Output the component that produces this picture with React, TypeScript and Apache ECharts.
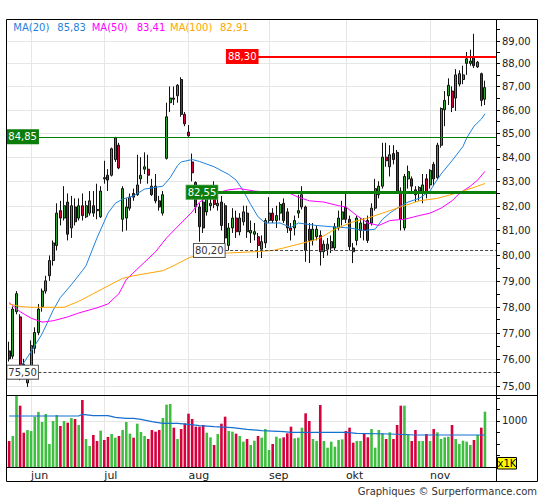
import React, { useEffect, useRef } from 'react';
import * as echarts from 'echarts';

// ---------- data ----------
const opens = [76.3,76.1,77.8,77.6,75.8,75.1,75.7,76.4,77.0,78.0, 78.6,79.2,79.8,80.4,81.8,81.5,82.15,81.1,81.95,81.5, 82.0,81.55,81.7,82.0,81.85,81.55,83.15,83.25,83.25,83.9, 84.5,81.45,81.5,81.9,82.5,82.45,83.1,83.5,83.5,82.8, 82.8,82.2,81.7,83.95,86.3,86.5,86.6,87.3,85.8,85.05, 83.8,82.95,81.95,82.15,81.75,82.0,82.3,82.0,82.15,82.0, 80.4,81.1,81.5,80.95,81.35,81.7,80.9,80.85,80.75,80.25, 80.5,81.4,81.7,81.4,81.7,82.1,81.75,81.1,81.1,81.7, 81.95,81.95,81.05,80.6,80.75,80.8,80.15,80.25,80.3,80.3, 81.1,81.45,81.95,81.45,80.3,80.6,81.0,81.25,81.4,81.3, 81.9,82.45,82.8,84.0,83.6,84.15,84.2,82.6,81.1,83.1, 83.1,82.65,82.6,82.5,83.1,82.85,83.7,83.15,84.5,86.0, 86.6,86.8,86.5,87.1,87.3,88.0,88.0,88.25,87.85,87.55, 86.45];
const closes = [76.0,77.9,78.5,75.4,75.5,75.5,76.5,77.0,77.9,78.6, 79.0,79.8,80.5,81.7,81.5,82.0,80.85,82.0,81.35,82.0, 81.6,82.0,82.2,81.7,81.8,82.6,83.1,83.05,84.35,84.8, 83.55,82.7,81.95,82.35,82.35,82.85,83.25,83.6,83.25,82.45, 82.2,81.95,82.45,85.7,86.5,86.45,87.05,85.8,85.4,84.9, 83.35,81.95,81.15,81.1,82.35,82.1,82.05,82.1,81.2,80.7, 81.1,81.5,80.95,81.5,81.75,80.95,81.0,80.95,80.4,80.55, 81.4,81.7,81.4,81.6,82.05,81.4,81.1,81.0,81.4,81.8, 82.45,80.2,80.6,81.05,81.05,80.15,80.45,80.45,80.55,81.15, 81.5,81.75,81.45,80.35,80.15,81.5,81.3,81.0,80.6,81.9, 82.7,82.8,84.0,83.85,84.1,83.9,82.55,81.45,83.2,83.4, 82.8,82.45,82.75,82.85,82.55,83.45,83.1,84.5,86.05,86.4, 87.05,86.1,87.5,87.55,87.5,88.2,88.1,87.9,88.05,86.4, 86.95];
const lows = [75.9,76.0,77.7,75.2,75.3,74.95,75.5,76.2,76.9,77.8, 78.5,79.0,79.6,80.2,81.2,81.4,80.6,80.7,81.2,81.4, 81.4,81.5,81.6,81.55,81.45,81.5,82.9,82.6,83.2,83.8, 83.5,80.95,81.0,81.8,82.2,82.4,82.9,83.3,82.9,82.4, 82.1,81.8,81.6,83.9,85.9,86.2,86.3,85.7,85.3,84.85, 83.0,81.7,80.55,80.9,81.6,81.8,81.9,81.8,81.0,80.2, 80.2,80.9,80.7,80.8,81.2,80.7,80.5,80.6,79.9,79.9, 80.3,81.3,81.3,81.1,81.4,81.3,80.9,80.6,80.8,81.5, 81.85,79.75,79.7,80.4,80.6,79.6,79.9,80.0,80.1,80.2, 81.0,81.2,81.3,80.2,79.7,80.4,80.7,80.6,80.5,81.2, 81.8,82.3,82.7,83.6,83.2,83.7,82.5,81.0,81.0,82.7, 82.5,82.15,82.2,82.1,82.3,82.7,82.8,83.1,84.4,85.3, 86.2,85.9,85.95,87.0,87.1,87.5,87.9,87.8,87.8,86.15, 86.2];
const highs = [76.65,78.0,78.6,77.7,76.0,75.7,76.7,77.2,78.1,78.7, 79.2,80.0,80.6,82.1,82.2,82.8,82.5,82.4,82.3,82.3, 82.5,82.2,82.6,82.6,82.9,82.8,83.85,83.5,84.4,84.85, 84.6,82.8,82.3,82.5,82.7,84.1,84.0,84.2,84.1,83.1, 83.3,82.4,82.6,86.3,87.0,87.0,87.1,87.4,85.9,85.35, 84.15,83.0,82.1,82.4,82.55,82.5,83.0,82.5,82.4,82.1, 81.3,81.9,81.8,81.7,82.0,82.0,81.4,81.3,80.9,80.8, 81.5,82.35,81.9,82.0,82.15,82.3,81.9,81.3,81.6,82.45, 82.8,82.0,81.3,81.3,81.2,81.0,80.6,80.7,80.8,81.3, 81.8,82.2,82.6,81.6,80.5,81.6,81.5,81.5,81.6,82.1, 83.1,83.0,84.6,84.6,84.5,84.5,84.3,82.75,83.3,83.65, 83.2,82.8,82.8,83.3,83.3,83.5,83.8,84.6,86.1,86.8, 87.35,87.0,87.75,87.7,87.9,88.5,88.6,89.3,88.1,87.6, 87.25];
// volumes in thousands
const volumes = [565,674,1551,1333,746,804,783,1094,1196,978, 1152,500,1000,1130,891,1000,964,1065,1043,913, 1456,609,457,696,565,790,587,652,717,638, 674,804,978,725,638,942,761,674,609,804, 768,804,1065,1355,1370,855,609,826,949,1159, 1043,877,877,913,746,645,478,717,942,1094, 783,768,725,674,551,609,478,572,674,638, 826,370,500,659,623,645,732,877,623,638, 855,1167,1000,609,565,1348,565,420,551,442, 587,601,783,855,529,565,565,732,645,826, 420,804,732,609,754,609,913,1333,1333,710, 565,804,565,565,717,565,826,754,609,645, 659,913,609,500,572,551,478,587,696,855, 1203];

// moving averages sampled along the picture: [candle index, value]
const ma20 = [[3,75.75],[4,75.85],[7,76.5],[9,76.95],[12,77.85],[14,78.35],[17,78.85],[20,79.4],[21,79.6],[24,80.7],[27,81.7],[29,82.1],[31,82.27],[34,82.4],[37,82.68],[42,82.8],[44,83.15],[46,83.65],[47,83.8],[50,83.9],[52,83.82],[56,83.6],[60,83.28],[62,83.05],[64,82.6],[66,82.05],[68,81.55],[70,81.3],[74,81.3],[77,81.12],[79,81.3],[84,81.2],[88,81.15],[93,81.1],[97,81.0],[100,81.05],[102,81.45],[104,81.7],[105,81.8],[107,82.0],[109,82.15],[112,82.3],[115,82.6],[116,82.85],[118,83.3],[121,83.85],[124,84.45],[125,84.8],[127,85.3],[129,85.6],[130,85.83]];
const ma50 = [[0,78.15],[3,77.8],[6,77.55],[9,77.4],[12,77.45],[16,77.6],[19,77.75],[24,77.95],[27,78.1],[30,78.5],[32,79.05],[36,79.6],[40,80.15],[43,80.7],[47,81.3],[50,81.75],[52,82.15],[56,82.5],[60,82.65],[63,82.7],[67,82.6],[71,82.55],[74,82.5],[76,82.55],[79,82.35],[82,82.2],[86,82.15],[90,82.0],[92,81.95],[95,81.6],[98,81.3],[101,81.2],[104,81.4],[108,81.45],[112,81.6],[115,81.7],[118,81.9],[121,82.2],[123,82.5],[126,82.8],[128,83.05],[130,83.41]];
const ma100 = [[0,78.1],[3,78.0],[6,77.97],[15,77.97],[19,78.2],[23,78.5],[27,78.8],[31,79.1],[34,79.2],[38,79.3],[42,79.4],[45,79.6],[49,79.9],[51,80.0],[54,80.05],[60,80.1],[67,80.15],[72,80.2],[75,80.3],[79,80.45],[83,80.6],[85,80.7],[89,81.05],[94,81.35],[98,81.5],[102,81.7],[107,81.95],[112,82.2],[117,82.3],[123,82.55],[128,82.8],[130,82.91]];
const volMa = [[0,1109],[19,1109],[20,1145],[23,1115],[27,1115],[29,1080],[32,1058],[34,1058],[36,1036],[39,985],[42,950],[46,950],[49,928],[52,898],[56,877],[61,855],[65,819],[69,790],[75,768],[77,754],[92,754],[95,732],[104,717],[111,696],[130,696]];

const monthNames = ['jun', 'jul', 'aug', 'sep', 'okt', 'nov'];
const monthStarts = [6, 26, 49, 71, 92, 115];
const priceTicks = [75, 76, 77, 78, 79, 80, 81, 82, 83, 84, 85, 86, 87, 88, 89];
const priceMinorTicks = [75.5, 76.5, 77.5, 78.5, 79.5, 80.5, 81.5, 82.5, 83.5, 84.5, 85.5, 86.5, 87.5, 88.5, 89.5];
const volumeGridValues = [1000];
const levelValues = [88.3, 84.85, 82.55, 80.2, 75.5];
const levelStarts = [69, 9, 58, 60, 9];
const legendNames = ['MA(20)', 'MA(50)', 'MA(100)'];

// ---------- styling ----------
const FONT = '"DejaVu Sans", Verdana, sans-serif';
const N_CAT = 135;
const C_UP = '#2ea52e';
const C_DOWN = '#d4003d';
const V_UP = '#3fbf3f';
const V_DOWN = '#d6003c';
const C_MA20 = '#1f82dc';
const C_MA50 = '#ff00ff';
const C_MA100 = '#ffa500';
const GRID_C = '#e6e6e6';

const cat = (k: number) => k + 1;
const fmt = (v: number) => v.toFixed(2).replace('.', ',');
const L = Math.log;

export default function App() {
  const ref = useRef<HTMLDivElement>(null);

  useEffect(() => {
    if (!ref.current) return;
    const chart = echarts.init(ref.current, null, { renderer: 'svg' });

    const categories = Array.from({ length: N_CAT }, (_, i) => String(i));
    const monthCats = monthStarts.map(cat);
    const monthAt = (i: number) => {
      const j = monthCats.indexOf(i);
      return j >= 0 ? monthNames[j] : '';
    };

    const candles = opens.map((o, k) => [cat(k), L(o), L(closes[k]), L(lows[k]), L(highs[k])]);
    const volBars = volumes.map((v, k) => ({
      value: [cat(k), v],
      itemStyle: { color: closes[k] >= opens[k] ? V_UP : V_DOWN },
    }));
    const lineData = (arr: number[][]) => arr.map(([k, v]) => [cat(k), L(v)]);

    const allTicks = [
      ...priceTicks.map((v) => ({ v, major: true })),
      ...priceMinorTicks.map((v) => ({ v, major: false })),
    ];

    const levelStyle = [
      { line: { color: '#ff0000', width: 2, type: 'solid' }, bg: '#ff0000', border: '#ff0000', text: '#fff' },
      { line: { color: '#008000', width: 1, type: 'solid' }, bg: '#0a7d0a', border: '#0a7d0a', text: '#fff' },
      { line: { color: '#0a800a', width: 3, type: 'solid' }, bg: '#0a7d0a', border: '#3a9a3a', text: '#fff' },
      { line: { color: '#444', width: 1, type: [3, 2] }, bg: '#fff', border: '#555', text: '#333' },
      { line: { color: '#444', width: 1, type: [3, 2] }, bg: '#fff', border: '#555', text: '#333' },
    ];

    const markData = levelValues.map((v, i) => [
      {
        coord: [levelStarts[i], L(v)],
        lineStyle: levelStyle[i].line,
        label: {
          show: true,
          position: 'start',
          distance: 0.5,
          formatter: fmt(v),
          color: levelStyle[i].text,
          backgroundColor: levelStyle[i].bg,
          borderColor: levelStyle[i].border,
          borderWidth: 1,
          padding: [1, 1, 0, 1],
          fontSize: 10,
          lineHeight: 12,
          fontFamily: FONT,
        },
      },
      { coord: [N_CAT - 1, L(v)] },
    ]);

    const maLast = [ma20, ma50, ma100].map((a) => a[a.length - 1][1]);
    const legendColors = [C_MA20, C_MA50, C_MA100];
    const legendX = [[13.3, 57.3], [91.7, 136.7], [170, 220]];
    const legendTexts: any[] = [];
    legendNames.forEach((n, i) => {
      legendTexts.push({
        type: 'text', z: 20, silent: true,
        style: { text: n, x: legendX[i][0], y: 27, fill: legendColors[i], font: `10px ${FONT}`, align: 'left', verticalAlign: 'middle' },
      });
      legendTexts.push({
        type: 'text', z: 20, silent: true,
        style: { text: fmt(maLast[i]), x: legendX[i][1], y: 27, fill: legendColors[i], font: `10px ${FONT}`, align: 'left', verticalAlign: 'middle' },
      });
    });

    const splitLine = {
      show: true,
      interval: (i: number) => monthCats.includes(i),
      lineStyle: { color: GRID_C, width: 1 },
    };

    const option: any = {
      animation: false,
      textStyle: { fontFamily: FONT },
      grid: [
        { left: 5.5, top: 19, width: 490.44, height: 376 },
        { left: 5.5, top: 395, width: 490.44, height: 72 },
      ],
      xAxis: [
        {
          type: 'category', gridIndex: 0, data: categories, boundaryGap: false,
          axisLine: { show: false }, axisTick: { show: false }, axisLabel: { show: false },
          splitLine,
        },
        {
          type: 'category', gridIndex: 1, data: categories, boundaryGap: false,
          axisLine: { show: false }, axisTick: { show: false },
          axisLabel: {
            show: true,
            interval: (i: number) => monthCats.includes(i),
            formatter: (v: string) => monthAt(Number(v)),
            align: 'left', margin: 3, fontSize: 11, color: '#222', fontFamily: FONT,
          },
          splitLine,
        },
      ],
      yAxis: [
        { type: 'value', gridIndex: 0, min: L(74.65), max: L(89.96), show: false },
        {
          type: 'value', gridIndex: 1, min: 0, max: 1565, interval: 250, position: 'right',
          axisLine: { show: false },
          axisTick: { show: true, length: 4, lineStyle: { color: '#000', width: 1 } },
          axisLabel: { formatter: (v: number) => (v === 1000 ? '1000' : ''), margin: 6, fontSize: 10, color: '#222', fontFamily: FONT },
          splitLine: { show: false },
        },
      ],
      series: [
        {
          type: 'custom', name: 'priceTicks', xAxisIndex: 0, yAxisIndex: 0, z: 1, silent: true, clip: false,
          data: allTicks.map((t) => [0, L(t.v)]),
          renderItem: (params: any, api: any) => {
            const t = allTicks[params.dataIndex];
            const y = Math.round(api.coord([0, api.value(1)])[1]) + 0.5;
            const children: any[] = [];
            if (t.major) {
              children.push({ type: 'line', shape: { x1: 6, y1: y, x2: 496, y2: y }, style: { stroke: GRID_C, lineWidth: 1 } });
              children.push({ type: 'text', style: { text: fmt(t.v), x: 502, y, fill: '#222', font: `10px ${FONT}`, align: 'left', verticalAlign: 'middle' } });
            }
            children.push({ type: 'line', shape: { x1: 496, y1: y, x2: 500, y2: y }, style: { stroke: '#000', lineWidth: 1 } });
            return { type: 'group', children };
          },
        },
        {
          type: 'custom', name: 'volGrid', xAxisIndex: 1, yAxisIndex: 1, z: 1, silent: true, clip: false,
          data: volumeGridValues.map((v) => [0, v]),
          renderItem: (params: any, api: any) => {
            const y = Math.round(api.coord([0, api.value(1)])[1]) + 0.5;
            return { type: 'line', shape: { x1: 6, y1: y, x2: 496, y2: y }, style: { stroke: GRID_C, lineWidth: 1 } };
          },
        },
        {
          type: 'candlestick', name: 'price', xAxisIndex: 0, yAxisIndex: 0, z: 3, silent: true,
          data: candles,
          encode: { x: 0, y: [1, 2, 3, 4] },
          barWidth: 2.5,
          itemStyle: { color: C_UP, color0: C_DOWN, borderColor: '#111', borderColor0: '#111', borderWidth: 1 },
          markLine: { silent: true, symbol: ['none', 'none'], animation: false, data: markData },
        },
        {
          type: 'line', name: 'MA20', xAxisIndex: 0, yAxisIndex: 0, z: 4, silent: true,
          data: lineData(ma20), symbol: 'none', lineStyle: { color: C_MA20, width: 1 },
        },
        {
          type: 'line', name: 'MA50', xAxisIndex: 0, yAxisIndex: 0, z: 4, silent: true,
          data: lineData(ma50), symbol: 'none', lineStyle: { color: C_MA50, width: 1 },
        },
        {
          type: 'line', name: 'MA100', xAxisIndex: 0, yAxisIndex: 0, z: 4, silent: true,
          data: lineData(ma100), symbol: 'none', lineStyle: { color: C_MA100, width: 1 },
        },
        {
          type: 'bar', name: 'volume', xAxisIndex: 1, yAxisIndex: 1, z: 3, silent: true,
          data: volBars, barWidth: 2.6,
        },
        {
          type: 'line', name: 'volMA', xAxisIndex: 1, yAxisIndex: 1, z: 4, silent: true,
          data: volMa.map(([k, v]) => [cat(k), v]), symbol: 'none', lineStyle: { color: '#1570d0', width: 1.2 },
        },
      ],
      graphic: [
        { type: 'rect', z: 30, silent: true, shape: { x: 6.5, y: 19.5, width: 531, height: 462 }, style: { fill: 'none', stroke: '#000', lineWidth: 1 } },
        { type: 'line', z: 30, silent: true, shape: { x1: 6, y1: 395.5, x2: 538, y2: 395.5 }, style: { stroke: '#000', lineWidth: 1 } },
        { type: 'line', z: 30, silent: true, shape: { x1: 6, y1: 467.5, x2: 496, y2: 467.5 }, style: { stroke: '#000', lineWidth: 1 } },
        { type: 'line', z: 30, silent: true, shape: { x1: 496.5, y1: 19, x2: 496.5, y2: 482 }, style: { stroke: '#000', lineWidth: 1 } },
        ...legendTexts,
        { type: 'rect', z: 31, silent: true, shape: { x: 497.5, y: 457.5, width: 19, height: 11.5 }, style: { fill: '#ffff00', stroke: '#000', lineWidth: 1 } },
        { type: 'text', z: 32, silent: true, style: { text: 'x1K', x: 507, y: 463.5, fill: '#000', font: `10px ${FONT}`, align: 'center', verticalAlign: 'middle' } },
        { type: 'text', z: 32, silent: true, style: { text: 'Graphiques © Surperformance.com', x: 537, y: 491, fill: '#333', font: `10px ${FONT}`, align: 'right', verticalAlign: 'middle' } },
      ],
    };

    chart.setOption(option);
    return () => chart.dispose();
  }, []);

  return <div ref={ref} style={{ position: 'fixed', left: 0, top: 0, width: 545, height: 500, background: '#fff' }} />;
}
